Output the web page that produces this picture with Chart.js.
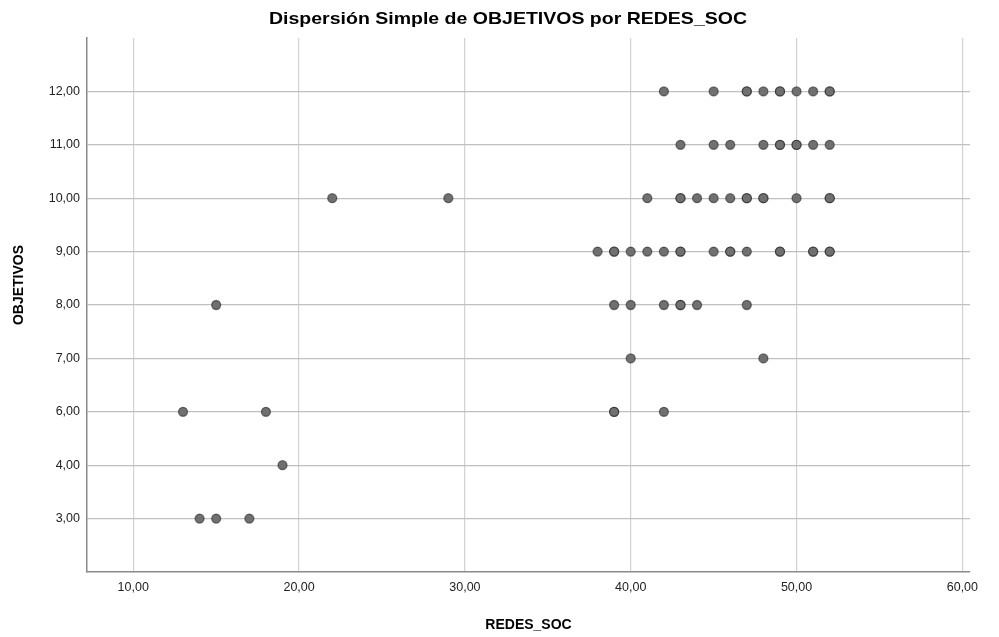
<!DOCTYPE html>
<html>
<head>
<meta charset="utf-8">
<script src="https://cdn.jsdelivr.net/npm/chart.js@4.4.1/dist/chart.umd.min.js"></script>
<style>
  html, body { margin: 0; padding: 0; background: #ffffff; }
  #wrap { width: 999px; height: 637px; }
</style>
</head>
<body>
<div id="wrap"><canvas id="c" width="999" height="637"></canvas></div>
<script>
// ---- Data ----
const chartTitle = 'Dispersión Simple de OBJETIVOS por REDES_SOC';
const xAxisTitle = 'REDES_SOC';
const yAxisTitle = 'OBJETIVOS';

// Y categories, top to bottom ('' / ' ' are empty padding slots)
const yCategories = [' ', '12,00', '11,00', '10,00', '9,00', '8,00', '7,00', '6,00', '4,00', '3,00', ''];
const xTicks = [10, 20, 30, 40, 50, 60];

// Paired observations (REDES_SOC, OBJETIVOS); repeated pairs = overlapping cases
const redesSoc = [
  42, 45, 47, 47, 48, 49, 49, 50, 51, 52, 52,
  43, 45, 46, 48, 49, 49, 50, 50, 51, 52,
  22, 29, 41, 43, 43, 44, 45, 46, 47, 47, 48, 48, 50, 52, 52,
  38, 39, 39, 40, 41, 42, 43, 43, 45, 46, 46, 47, 49, 49, 51, 51, 52, 52,
  15, 39, 40, 42, 43, 43, 44, 47,
  40, 48,
  13, 18, 39, 39, 42,
  19,
  14, 15, 17
];
const objetivos = [
  12, 12, 12, 12, 12, 12, 12, 12, 12, 12, 12,
  11, 11, 11, 11, 11, 11, 11, 11, 11, 11,
  10, 10, 10, 10, 10, 10, 10, 10, 10, 10, 10, 10, 10, 10, 10,
  9, 9, 9, 9, 9, 9, 9, 9, 9, 9, 9, 9, 9, 9, 9, 9, 9, 9,
  8, 8, 8, 8, 8, 8, 8, 8,
  7, 7,
  6, 6, 6, 6, 6,
  4,
  3, 3, 3
];

const fmt = v => Number(v).toFixed(2).replace('.', ',');
const points = redesSoc.map((x, i) => ({ x: x, y: fmt(objetivos[i]) }));

const FONT = "'Liberation Sans', Arial, sans-serif";

const titlePlugin = {
  id: 'spssTitles',
  afterDraw(chart) {
    const ctx = chart.ctx;
    ctx.save();
    ctx.fillStyle = '#000000';
    ctx.font = 'bold 17px ' + FONT;
    ctx.textAlign = 'center';
    ctx.textBaseline = 'middle';
    const w = ctx.measureText(chartTitle).width;
    const sx = 478 / w;
    ctx.translate(508, 19);
    ctx.scale(sx, 1);
    ctx.fillText(chartTitle, 0, 0);
    ctx.restore();

    ctx.save();
    ctx.fillStyle = '#000000';
    ctx.font = 'bold 14px ' + FONT;
    ctx.textAlign = 'center';
    ctx.textBaseline = 'middle';
    ctx.translate(19, 285);
    ctx.rotate(-Math.PI / 2);
    ctx.fillText(yAxisTitle, 0, 0);
    ctx.restore();
  }
};

new Chart(document.getElementById('c'), {
  type: 'scatter',
  data: {
    datasets: [{
      data: points,
      backgroundColor: '#707070',
      borderColor: 'rgba(30,30,30,0.55)',
      borderWidth: 1.3,
      pointRadius: 4.5,
      pointHoverRadius: 4.5
    }]
  },
  options: {
    responsive: false,
    animation: false,
    layout: { padding: { left: 0, right: 29, top: 38, bottom: 0 } },
    plugins: {
      legend: { display: false },
      tooltip: { enabled: false },
      title: { display: false }
    },
    scales: {
      x: {
        type: 'linear',
        min: 7.21,
        max: 60.46,
        afterBuildTicks: s => { s.ticks = xTicks.map(v => ({ value: v })); },
        afterFit: s => { s.height = 65; },
        ticks: {
          callback: v => fmt(v),
          font: { family: FONT, size: 12.5 },
          color: '#222222',
          padding: 8,
          maxRotation: 0
        },
        grid: { color: '#d2d2d2', lineWidth: 1.2, drawTicks: false },
        border: { display: true, color: '#8a8a8a', width: 1.5 },
        title: {
          display: true,
          text: xAxisTitle,
          font: { family: FONT, size: 14, weight: 'bold' },
          color: '#000000',
          padding: { top: 0, bottom: 3 }
        }
      },
      y: {
        type: 'category',
        labels: yCategories,
        afterFit: s => { s.width = 87; },
        ticks: {
          autoSkip: false,
          font: { family: FONT, size: 12.5 },
          color: '#222222',
          padding: 7
        },
        grid: {
          drawTicks: false,
          lineWidth: 1.3,
          color: c => (c.tick && c.tick.label && String(c.tick.label).trim() !== '') ? '#c0c0c0' : 'rgba(0,0,0,0)'
        },
        border: { display: true, color: '#8a8a8a', width: 1.5 },
        title: { display: false }
      }
    }
  },
  plugins: [titlePlugin]
});
</script>
</body>
</html>
